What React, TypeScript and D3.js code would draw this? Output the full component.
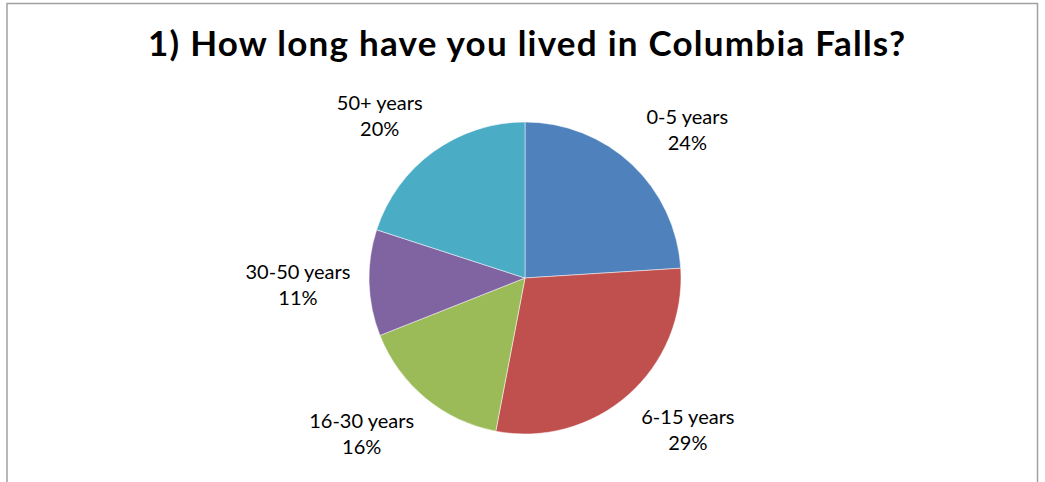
import React from "react";
import * as d3 from "d3";

const categories = ["0-5 years", "6-15 years", "16-30 years", "30-50 years", "50+ years"];
const values = [24, 29, 16, 11, 20];
const colors = ["#4F81BD", "#C0504D", "#9BBB59", "#8064A2", "#4BACC6"];
const title = "1) How long have you lived in Columbia Falls?";

const W = 1045;
const H = 482;
const cx = 525;
const cy = 278;
const R = 156;
const FONT = "Lato, 'Open Sans', sans-serif";
const LABEL_SIZE = 20;
const LINE = 26;

export default function App() {
  const data = categories.map((c, i) => ({ c, v: values[i], color: colors[i] }));
  const pie = d3.pie<any>().value((d: any) => d.v).sort(null).startAngle(0).endAngle(2 * Math.PI);
  const arcs = pie(data);
  const arcGen = d3.arc<any>().innerRadius(0).outerRadius(R);
  const total = d3.sum(values);
  const gap = 20;
  const clamp = (v: number) => Math.max(-1, Math.min(1, v));

  return (
    <svg width={W} height={H} style={{ position: "absolute", left: 0, top: 0, background: "#fff" }}>
      <rect x={0} y={0} width={W} height={H} fill="#fff" />
      <path d={`M7,${H} L7,3.5 L1037.5,3.5 L1037.5,${H}`} fill="none" stroke="#a0a0a0" strokeWidth={1.5} />
      <text x={526.5} y={56} textAnchor="middle" fontFamily={FONT} fontWeight="bold" fontSize={35}
        textLength={757} lengthAdjust="spacing" fill="#000">
        {title}
      </text>
      <g transform={`translate(${cx},${cy})`}>
        {arcs.map((a, i) => (
          <path key={i} d={arcGen(a) as string} fill={a.data.color} stroke="#fff" strokeWidth={0.5} />
        ))}
        {arcs.map((a, i) => {
          const mid = (a.startAngle + a.endAngle) / 2;
          const s = Math.sin(mid);
          const c = Math.cos(mid);
          const ar = R + gap;
          const bw = a.data.c.length * 9.3;
          const bh = 40;
          const x = ar * s + (bw / 2) * clamp(2 * s);
          const vy = -ar * c - (bh / 2) * clamp(2 * c);
          const pct = Math.round((a.data.v / total) * 100) + "%";
          return (
            <text key={"l" + i} x={x} y={vy - 6} textAnchor="middle" fontFamily={FONT} fontSize={LABEL_SIZE} fill="#000">
              <tspan x={x} y={vy - 6}>{a.data.c}</tspan>
              <tspan x={x} y={vy - 6 + LINE}>{pct}</tspan>
            </text>
          );
        })}
      </g>
    </svg>
  );
}
